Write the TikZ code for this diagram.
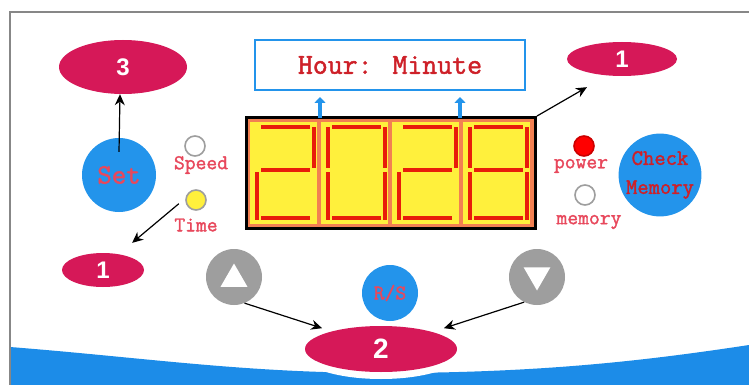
\documentclass[tikz,border=0pt]{standalone}
\usepackage{fontspec}
\newfontfamily\panelsans{Liberation Sans}
\newfontfamily\panelmono[FakeBold=1.6]{Latin Modern Mono}
\usetikzlibrary{arrows.meta,shapes.geometric}

\definecolor{tagred}{RGB}{214,24,88}
\definecolor{keyblue}{RGB}{35,148,235}
\definecolor{waveblue}{RGB}{28,140,232}
\definecolor{keygray}{RGB}{158,158,158}
\definecolor{framegray}{RGB}{135,135,135}
\definecolor{labelred}{RGB}{232,72,92}
\definecolor{textred}{RGB}{206,32,40}
\definecolor{dispbg}{RGB}{242,128,82}
\definecolor{digityellow}{RGB}{255,240,60}
\definecolor{segred}{RGB}{232,28,10}

\newcommand\segbox[2]{%
    \ifcase#2
        \fill[segred] (#1+13,125) rectangle (#1+62,129);
    \or
        \fill[segred] (#1+64,127) rectangle (#1+68,168);
    \or
        \fill[segred] (#1+64,172) rectangle (#1+68,220);
    \or
        \fill[segred] (#1+13,216) rectangle (#1+62,220);
    \or
        \fill[segred] (#1+7,172) rectangle (#1+11,220);
    \or
        \fill[segred] (#1+7,127) rectangle (#1+11,168);
    \or
        \fill[segred] (#1+13,168) rectangle (#1+62,172);
    \fi}

\begin{document}
\begin{tikzpicture}[x=1pt, y=-1pt,
    tag/.style={ellipse, fill=tagred, text=white, inner sep=0pt,
        font=\panelsans\bfseries\fontsize{24}{24}\selectfont},
    key/.style={circle, fill=keyblue, inner sep=0pt, minimum size=74pt, align=center},
    led/.style={circle, draw=keygray, line width=1.6pt, minimum size=20pt, inner sep=0pt},
    ledtext/.style={text=labelred, inner sep=0pt,
        font=\panelmono\fontsize{21}{21}\selectfont},
    arrowkey/.style={circle, fill=keygray, minimum size=56pt, inner sep=0pt},
    pointer/.style={-{Stealth[length=11pt, width=10pt]}, line width=1.2pt},
    fatpointer/.style={-{Triangle[length=6pt, width=11pt]}, line width=4pt, draw=keyblue}]
    \useasboundingbox (0,0) rectangle (749,385);
    \fill[white] (0,0) rectangle (749,385);

    \fill[waveblue] (10,347) .. controls (150,358) and (250,374) .. (400,373)
        .. controls (550,372) and (650,360) .. (749,345) -- (749,385) -- (10,385) -- cycle;
    \draw[framegray, line width=2pt] (10,385) |- (749,12);

    \node[draw=keyblue, line width=2pt, minimum width=270pt, minimum height=50pt,
        text=textred, font=\panelmono\fontsize{29}{29}\selectfont] (hm) at (390,65)
        {Hour: Minute};

    \node[draw=black, line width=3pt, fill=dispbg, minimum width=289pt,
        minimum height=111pt, inner sep=0pt] (disp) at (391,173) {};
    \foreach \xo/\segs in {248/{0,1,6,4,3}, 319/{0,1,2,3,4,5}, 390/{0,1,6,4,3}, 461/{0,1,2,3,4,5,6}} {
        \fill[digityellow] (\xo+2,122) rectangle (\xo+69,224);
        \foreach \s in \segs {
            \segbox{\xo}{\s}
        }
    }

    \draw[fatpointer] ([xshift=-71pt,yshift=-2pt]disp.north) -- ([xshift=-70pt,yshift=-6pt]hm.south);
    \draw[fatpointer] ([xshift=69pt,yshift=-2pt]disp.north) -- ([xshift=70pt,yshift=-6pt]hm.south);

    \node[tag, minimum width=128pt, minimum height=54pt] (three) at (123,67) {3};
    \node[tag, minimum width=110pt, minimum height=34pt] (oneR) at (622,59) {1};
    \node[tag, minimum width=82pt, minimum height=34pt] (oneL) at (103,270) {1};
    \fill[white] (381,351) ellipse [x radius=83, y radius=28];
    \node[tag, minimum width=152pt, minimum height=46pt,
        font=\panelsans\bfseries\fontsize{28}{28}\selectfont] (two) at (381,349) {2};

    \node[key, text=labelred, font=\panelmono\fontsize{28}{28}\selectfont] (set) at (119,175) {Set};
    \node[key, text=textred, font=\panelmono\fontsize{22}{29}\selectfont] (check) at (660,175) {Check\\Memory};
    \node[key, minimum size=56pt, text=labelred,
        font=\panelmono\fontsize{21}{21}\selectfont] (rs) at (390,293) {R/S};

    \node[led, fill=white] (speedled) at (195,146) {};
    \node[ledtext] (speedtxt) at (201,165) {Speed};
    \node[led, fill=digityellow] (timeled) at (196,200) {};
    \node[ledtext] (timetxt) at (196,225) {Time};
    \node[led, draw=red!80!black, fill=red] (powerled) at (584,146) {};
    \node[ledtext] (powertxt) at (581,166) {power};
    \node[led, fill=white] (memled) at (585,195) {};
    \node[ledtext] (memtxt) at (589,222) {memory};

    \node[arrowkey] (up) at (234,277) {};
    \node[regular polygon, regular polygon sides=3, fill=white, minimum size=31pt, inner sep=0pt] (uptri) at (234,279) {};
    \node[arrowkey] (down) at (537,277) {};
    \node[regular polygon, regular polygon sides=3, shape border rotate=180, fill=white,
        minimum size=31pt, inner sep=0pt] (downtri) at (537,275) {};

    \draw[pointer] ([yshift=-14pt]set.north) -- ([xshift=-3pt]three.south);
    \draw[pointer] (disp.north east) -- ([xshift=4pt,yshift=-16pt]oneR.south west);
    \draw[pointer] ([xshift=-7pt]timeled.200) -- ([yshift=15pt]oneL.north east);
    \draw[pointer] (up.-68) -- ([xshift=-10pt,yshift=3pt]two.160);
    \draw[pointer] (down.243) -- ([xshift=14pt,yshift=3pt]two.20);
\end{tikzpicture}
\end{document}
